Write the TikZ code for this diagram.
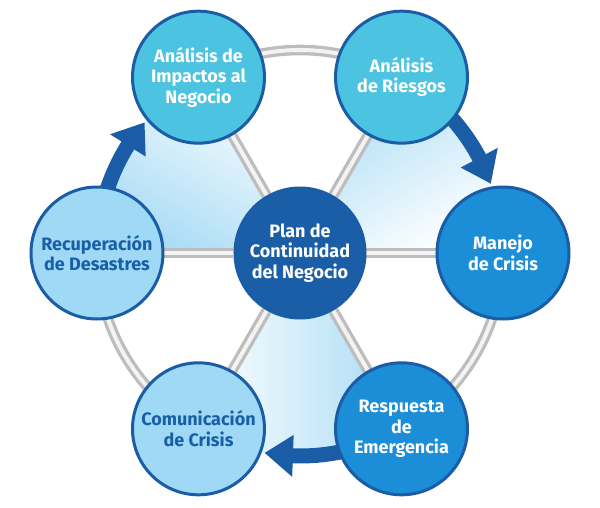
\documentclass[tikz,border=0pt]{standalone}
\usepackage{fontspec}
\setmainfont{Fira Sans}
\usetikzlibrary{backgrounds}
\definecolor{ringborder}{HTML}{1A5DA6}
\definecolor{cyanc}{HTML}{4CC3E0}
\definecolor{midc}{HTML}{1C8DD7}
\definecolor{lightc}{HTML}{A0D9F6}
\definecolor{darkc}{HTML}{1B5EA8}
\definecolor{darktext}{HTML}{175FA6}
\definecolor{wedgec}{HTML}{A6DBF5}
\definecolor{tubeedge}{HTML}{BDBDBD}
\definecolor{tubehi}{HTML}{F3F3F3}
\begin{document}
\begin{tikzpicture}[x=1pt,y=1pt,
  stage/.style={circle, draw=ringborder, line width=3pt, minimum size=132pt, inner sep=0pt, align=center,
    font=\bfseries\fontsize{18}{20.5}\selectfont},
  cyanstage/.style={stage, fill=cyanc, text=white},
  midstage/.style={stage, fill=midc, text=white},
  lightstage/.style={stage, fill=lightc, text=darktext},
  hubstage/.style={stage, fill=darkc, text=white, minimum size=130pt},
  tube/.style={draw=tubeedge, line width=3.3pt, double=tubehi, double distance=4pt},
  flow/.style={fill=ringborder}]
\useasboundingbox (-300,-254) rectangle (300,253);

% nodes
\node[hubstage] (hub) at (0,0) {Plan de\\Continuidad\\del Negocio};
\node[cyanstage] (bia) at (120:203) {Análisis de\\Impactos al\\Negocio};
\node[cyanstage] (risk) at (60:203) {Análisis\\de Riesgos};
\node[midstage] (crisis) at (0:203) {Manejo\\de Crisis};
\node[midstage] (resp) at (-60:203) {Respuesta\\de\\Emergencia};
\node[lightstage] (comm) at (-120:203) {Comunicación\\de Crisis};
\node[lightstage] (recov) at (180:203) {Recuperación\\de Desastres};

\begin{pgfonlayer}{background}
% gradient wedges
\begin{scope}
  \clip (0,0) -- (60:203) arc[start angle=60,end angle=0,radius=203] -- cycle;
  \shade[top color=wedgec, bottom color=white, shading angle=30] (0,0) rectangle (205,180);
\end{scope}
\begin{scope}
  \clip (0,0) -- (300:203) arc[start angle=300,end angle=240,radius=203] -- cycle;
  \shade[top color=wedgec, bottom color=white, shading angle=-90] (-105,-205) rectangle (105,0);
\end{scope}
\begin{scope}
  \clip (0,0) -- (180:203) arc[start angle=180,end angle=120,radius=203] -- cycle;
  \shade[top color=wedgec, bottom color=white, shading angle=150] (-205,0) rectangle (0,180);
\end{scope}

% ring arcs
\draw[tube] (120:203) arc[start angle=120,end angle=60,radius=203];
\draw[tube] (0:203) arc[start angle=0,end angle=-60,radius=203];
\draw[tube] (240:203) arc[start angle=240,end angle=180,radius=203];

% spokes
\foreach \n in {bia,risk,crisis,resp,comm,recov}
  \draw[tube] (hub) -- (\n);

% flow arrows
\fill[flow] (50:210.5) arc[start angle=50,end angle=28,radius=210.5] -- (28:224) -- (20:203)
  -- (28:182) -- (28:195.5) arc[start angle=28,end angle=50,radius=195.5] -- cycle;
\fill[flow] (290:210.5) arc[start angle=290,end angle=268,radius=210.5] -- (268:224) -- (260:203)
  -- (268:182) -- (268:195.5) arc[start angle=268,end angle=290,radius=195.5] -- cycle;
\fill[flow] (170:210.5) arc[start angle=170,end angle=148,radius=210.5] -- (148:224) -- (140:203)
  -- (148:182) -- (148:195.5) arc[start angle=148,end angle=170,radius=195.5] -- cycle;
\end{pgfonlayer}
\end{tikzpicture}
\end{document}
